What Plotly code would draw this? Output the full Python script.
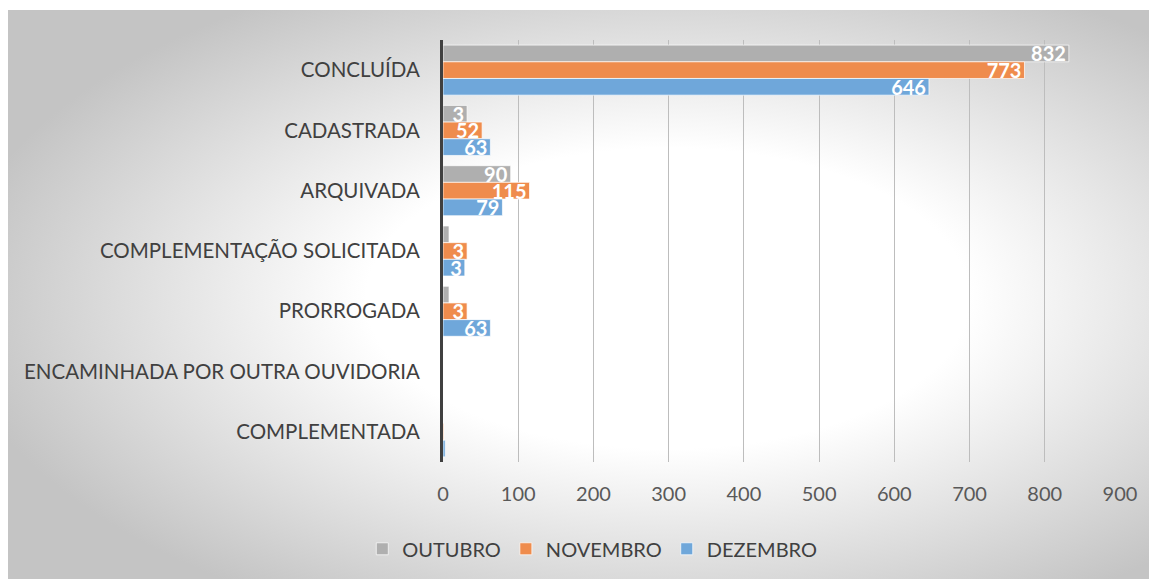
import base64
import plotly.graph_objects as go

categories = ["CONCLUÍDA", "CADASTRADA", "ARQUIVADA", "COMPLEMENTAÇÃO SOLICITADA",
              "PRORROGADA", "ENCAMINHADA POR OUTRA OUVIDORIA", "COMPLEMENTADA"]
series_names = ["OUTUBRO", "NOVEMBRO", "DEZEMBRO"]
outubro = [832, 32, 90, 8, 8, 0, 0]
novembro = [773, 52, 115, 32, 32, 0, 1]
dezembro = [646, 63, 79, 29, 63, 0, 3]
outubro_labels = ["832", "3", "90", "", "", "", ""]
novembro_labels = ["773", "52", "115", "3", "3", "", ""]
dezembro_labels = ["646", "63", "79", "3", "63", "", ""]
x_ticks = [0, 100, 200, 300, 400, 500, 600, 700, 800, 900]

colors = ["#afafaf", "#ef8c4d", "#6fa7da"]
values = [outubro, novembro, dezembro]
labels = [outubro_labels, novembro_labels, dezembro_labels]

FONT = "Lato"

fig = go.Figure()
for name, vals, labs, col in zip(series_names, values, labels, colors):
    fig.add_trace(go.Bar(
        y=categories, x=vals, name=name, orientation="h",
        marker=dict(color=col, line=dict(color="rgba(255,255,255,0.7)", width=1)),
        text=labs, textposition="inside", insidetextanchor="end", textangle=0,
        constraintext="none", cliponaxis=False,
        textfont=dict(family=FONT, size=20, color="white", weight="bold"),
        hoverinfo="x+y+name",
    ))

svg = (
    '<svg xmlns="http://www.w3.org/2000/svg" width="1157" height="577" viewBox="0 0 1157 577" preserveAspectRatio="none">'
    '<defs><radialGradient id="g" cx="0.57" cy="0.5" r="0.62" gradientUnits="objectBoundingBox">'
    '<stop offset="0" stop-color="#ffffff"/>'
    '<stop offset="0.42" stop-color="#ffffff"/>'
    '<stop offset="1" stop-color="#c4c4c4"/>'
    '</radialGradient></defs>'
    '<rect x="0" y="0" width="1157" height="577" fill="url(#g)"/></svg>'
)
src = "data:image/svg+xml;base64," + base64.b64encode(svg.encode()).decode()

# page body has an 8px margin, so figure coords are screen coords minus 8
L, R, T, B = 435, 1112, 32, 454
W, H = R - L, B - T
fig.add_layout_image(dict(
    source=src, xref="paper", yref="paper",
    x=(0 - L) / W, y=(B - 2) / H,
    sizex=1157 / W, sizey=577 / H,
    xanchor="left", yanchor="top", sizing="stretch", layer="below",
))

fig.update_layout(
    width=1157, height=579,
    margin=dict(l=L, r=1157 - R, t=T, b=579 - B),
    paper_bgcolor="white", plot_bgcolor="rgba(0,0,0,0)",
    barmode="group", bargap=0.17, bargroupgap=0.0,
    font=dict(family=FONT, size=20, color="#404040"),
    showlegend=True,
    legend=dict(orientation="h", xref="container", yref="container",
                x=0.505, y=0.066, xanchor="center", yanchor="middle",
                font=dict(family=FONT, size=20, color="#404040"),
                bgcolor="rgba(0,0,0,0)", itemwidth=30, tracegroupgap=0),
    xaxis=dict(range=[0, 900], tickvals=x_ticks, showgrid=True,
               gridcolor="#bdbdbd", gridwidth=1, zeroline=False,
               showline=False, ticks="", ticklabelstandoff=18,
               tickfont=dict(family=FONT, size=20, color="#595959")),
    yaxis=dict(categoryorder="array", categoryarray=categories,
               autorange="reversed", showline=True, linecolor="#404040",
               linewidth=3, ticks="", ticklabelstandoff=16, showgrid=False,
               tickfont=dict(family=FONT, size=20.5, color="#404040")),
)

fig.write_html("out.html")
